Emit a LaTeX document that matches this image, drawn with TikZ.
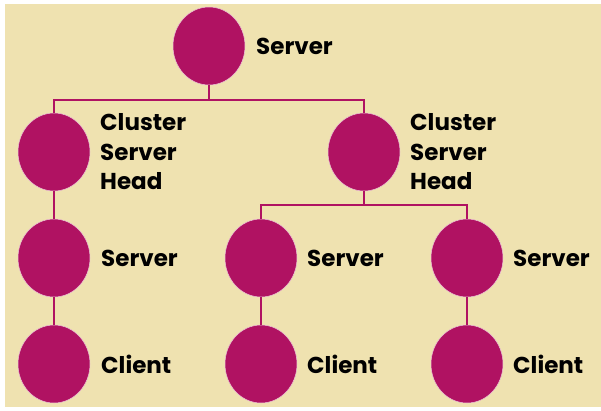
\documentclass[tikz,border=0pt]{standalone}
\usepackage{fontspec}
\setmainfont{Poppins}
\usetikzlibrary{shapes.geometric}
\definecolor{sand}{RGB}{239,226,176}
\definecolor{plum}{RGB}{176,18,98}
\tikzset{
  host/.style={ellipse, fill=plum, draw=white!75!plum, line width=0.5pt,
    minimum width=72pt, minimum height=78pt, inner sep=0pt},
  tag/.style={anchor=west, font=\fontsize{23}{29.5}\selectfont\bfseries,
    align=left, inner sep=0pt, text=black},
  link/.style={draw=plum, line width=2.8pt}
}
\begin{document}
\begin{tikzpicture}[x=1pt, y=-1pt]
  \useasboundingbox (0,0) rectangle (601,410);
  \fill[sand] (5,4) rectangle (601,407);

  % hosts
  \node[host] (root) at (209,46) {};
  \node[host] (cl1) at (54,152) {};
  \node[host] (cl2) at (364,152) {};
  \node[host] (s1) at (54,258) {};
  \node[host] (s2) at (261,258) {};
  \node[host] (s3) at (467,258) {};
  \node[host] (c1) at (54,364) {};
  \node[host] (c2) at (261,364) {};
  \node[host] (c3) at (467,364) {};

  % bus junctions
  \coordinate (bus1) at (209,100);
  \coordinate (bus2) at (364,205);

  % labels
  \node[tag] (lroot) at (256,46) {Server};
  \node[tag] (lcl1) at (100,152) {Cluster\\Server\\Head};
  \node[tag] (lcl2) at (410,152) {Cluster\\Server\\Head};
  \node[tag] (ls1) at (101,258) {Server};
  \node[tag] (ls2) at (307,258) {Server};
  \node[tag] (ls3) at (513,258) {Server};
  \node[tag] (lc1) at (101,364) {Client};
  \node[tag] (lc2) at (307,364) {Client};
  \node[tag] (lc3) at (513,364) {Client};

  % connectors
  \draw[link] (root.south) -- (bus1);
  \draw[link] (cl1.north) |- (bus1) -| (cl2.north);
  \draw[link] (cl2.south) -- (bus2);
  \draw[link] (s2.north) |- (bus2) -| (s3.north);
  \draw[link] (cl1.south) -- (s1.north);
  \draw[link] (s1.south) -- (c1.north);
  \draw[link] (s2.south) -- (c2.north);
  \draw[link] (s3.south) -- (c3.north);
\end{tikzpicture}
\end{document}
